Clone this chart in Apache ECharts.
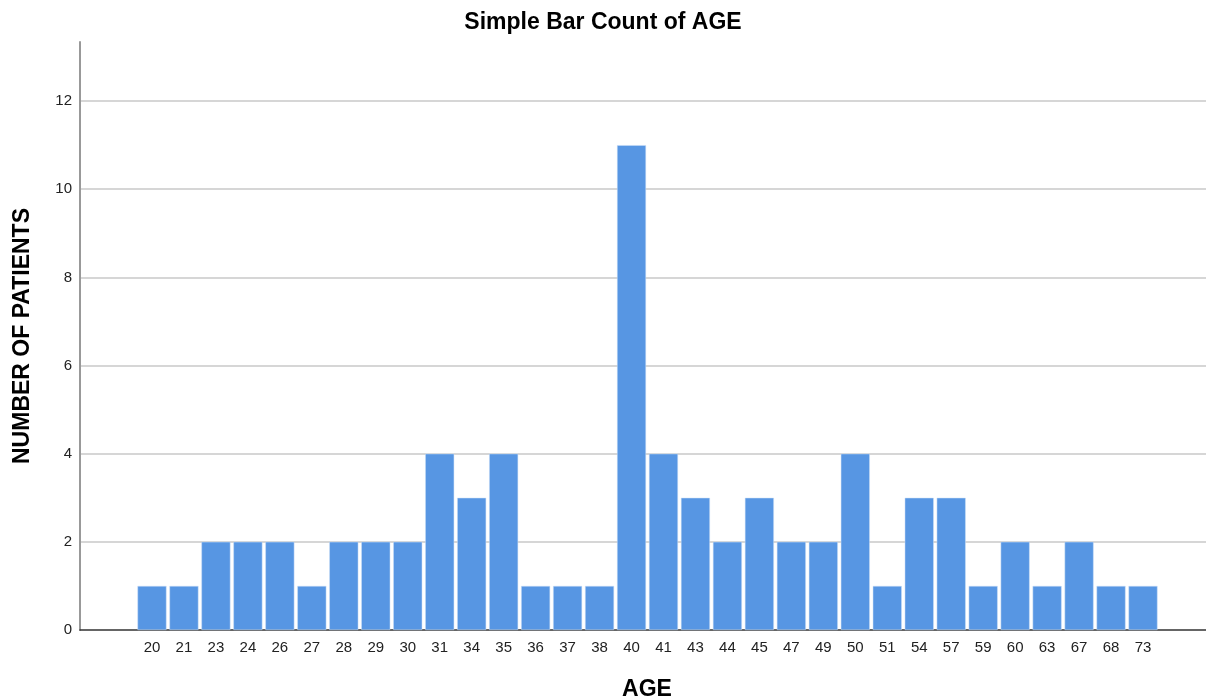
<!DOCTYPE html>
<html><head><meta charset="utf-8">
<script src="https://cdn.jsdelivr.net/npm/echarts@6/dist/echarts.min.js"></script>
<style>html,body{margin:0;padding:0;background:#fff}#c{width:1206px;height:699px}</style>
</head><body><div id="c"></div>
<script>
const ages = ['20','21','23','24','26','27','28','29','30','31','34','35','36','37','38','40','41','43','44','45','47','49','50','51','54','57','59','60','63','67','68','73'];
const counts = [1,1,2,2,2,1,2,2,2,4,3,4,1,1,1,11,4,3,2,3,2,2,4,1,3,3,1,2,1,2,1,1];
const yTicks = [0,2,4,6,8,10,12];

const FONT = 'Liberation Sans, Arial, sans-serif';
const YMAX = 13.34;
const chart = echarts.init(document.getElementById('c'), null, {renderer:'canvas'});
chart.setOption({
  animation: false,
  backgroundColor: '#fff',
  title: {text: 'Simple Bar Count of AGE', left: 'center', top: 6,
    textStyle: {fontFamily: FONT, fontSize: 23, fontWeight: 'bold', color: '#000'}},
  grid: [
    {left: 80, right: 0, top: 42, bottom: 69, outerBoundsMode: 'none', containLabel: false},
    {left: 136, right: 47, top: 42, bottom: 69, outerBoundsMode: 'none', containLabel: false}
  ],
  xAxis: [
    {gridIndex: 0, type: 'value', min: 0, max: 1, axisLine: {show: true, lineStyle: {color: '#333', width: 1.5}},
      axisTick: {show: false}, axisLabel: {show: false}, splitLine: {show: false},
      name: 'AGE', nameLocation: 'middle', nameGap: 48,
      nameTextStyle: {fontFamily: FONT, fontSize: 23, fontWeight: 'bold', color: '#000', padding: [0, 0, 0, 8]}},
    {gridIndex: 1, type: 'category', data: ages, boundaryGap: true,
      axisLine: {show: false}, axisTick: {show: false},
      axisLabel: {fontFamily: FONT, fontSize: 15, color: '#222', margin: 10, interval: 0}}
  ],
  yAxis: [
    {gridIndex: 0, type: 'value', min: 0, max: YMAX, interval: 2,
      axisLine: {show: true, lineStyle: {color: '#999', width: 2}}, axisTick: {show: false},
      axisLabel: {fontFamily: FONT, fontSize: 15, color: '#222', margin: 8, showMaxLabel: false,
        formatter: v => yTicks.includes(v) ? String(v) : ''},
      splitLine: {show: true, showMinLine: false, showMaxLine: false, lineStyle: {color: '#c8c8c8', width: 1.5}},
      name: 'NUMBER OF PATIENTS', nameLocation: 'middle', nameGap: 46, nameRotate: 90,
      nameTextStyle: {fontFamily: FONT, fontSize: 23, fontWeight: 'bold', color: '#000'}},
    {gridIndex: 1, type: 'value', min: 0, max: YMAX, show: false}
  ],
  series: [{
    type: 'bar', xAxisIndex: 1, yAxisIndex: 1, data: counts, barWidth: 29,
    itemStyle: {color: '#5796E3', borderColor: '#cfe0f7', borderWidth: 0.5}
  }]
});
</script></body></html>
